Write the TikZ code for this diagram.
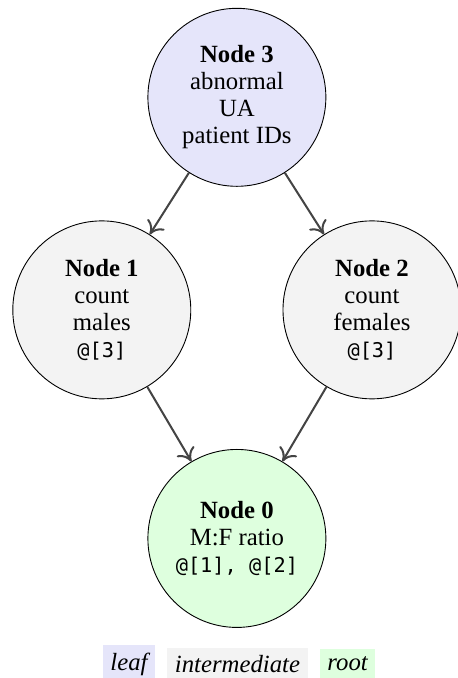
\documentclass[tikz,border=0pt]{standalone}
\usepackage{fontspec}
\setmainfont{Liberation Serif}
\setmonofont[Scale=0.82]{DejaVu Sans Mono}
\usetikzlibrary{positioning,arrows.meta}
\definecolor{leafcol}{RGB}{229,229,250}
\definecolor{midcol}{RGB}{243,243,243}
\definecolor{rootcol}{RGB}{222,255,222}
\definecolor{edgecol}{RGB}{68,68,68}

\begin{document}
\begin{tikzpicture}

    \tikzstyle{task}=[circle, draw=black, minimum size=2.78cm, inner sep=0pt, align=center, font=\fontsize{11}{12}\selectfont];
    \tikzstyle{flow}=[-{To[length=5.5pt, width=9pt]}, line width=0.9pt, draw=edgecol];
    \tikzstyle{key}=[font=\fontsize{11}{12}\selectfont\itshape];

    \useasboundingbox (0,0) rectangle (7.14,-10.59);

    \node[task, fill=leafcol] (3) at (3.70,-1.52) {\textbf{Node 3}\\abnormal\\UA\\patient IDs};
    \node[task, fill=midcol]  (1) at (1.59,-4.84) {\textbf{Node 1}\\count\\males\\\texttt{@[3]}};
    \node[task, fill=midcol]  (2) at (5.81,-4.84) {\textbf{Node 2}\\count\\females\\\texttt{@[3]}};
    \node[task, fill=rootcol] (0) at (3.70,-8.41) {\textbf{Node 0}\\M:F ratio\\\texttt{@[1], @[2]}};

    \node[key, fill=midcol] (mid) at (3.71,-10.37) {intermediate};
    \node[key, fill=leafcol, left=0.18cm of mid] (leaf) {leaf};
    \node[key, fill=rootcol, right=0.18cm of mid] (root) {root};

    \draw (3) edge[flow] (1);
    \draw (3) edge[flow] (2);
    \draw (1) edge[flow] (0);
    \draw (2) edge[flow] (0);

\end{tikzpicture}
\end{document}
